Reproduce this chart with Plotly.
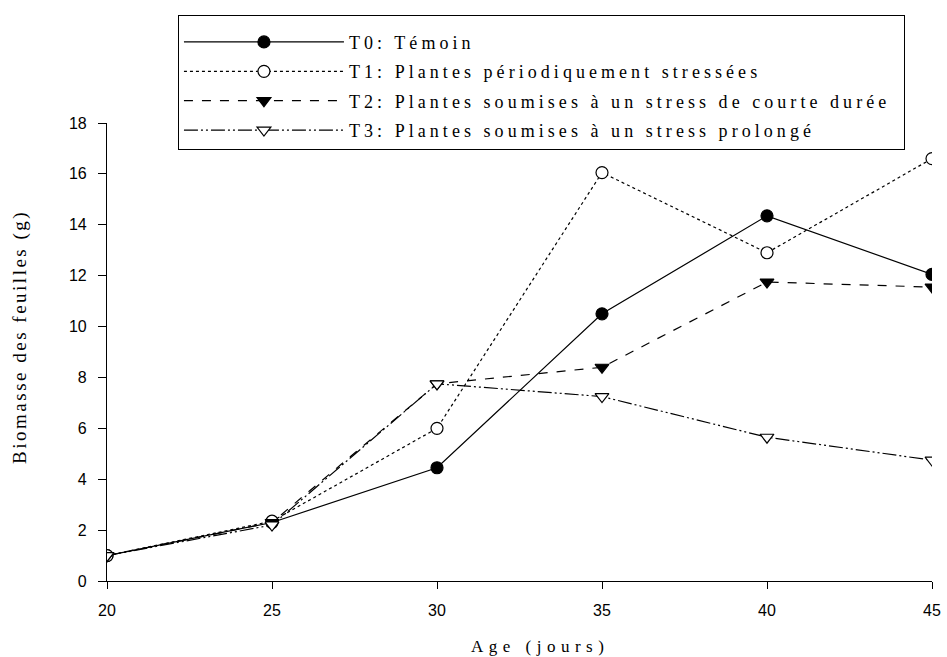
import plotly.graph_objects as go

ages = [20, 25, 30, 35, 40, 45]
t0 = [1.0, 2.3, 4.45, 10.5, 14.35, 12.05]
t1 = [1.0, 2.35, 6.0, 16.05, 12.9, 16.6]
t2 = [1.0, 2.3, 7.75, 8.4, 11.75, 11.55]
t3 = [1.0, 2.2, 7.75, 7.25, 5.65, 4.75]
names = ["T0: Témoin",
         "T1: Plantes périodiquement stressées",
         "T2: Plantes soumises à un stress de courte durée",
         "T3: Plantes soumises à un stress prolongé"]
x_ticks = [20, 25, 30, 35, 40, 45]
y_ticks = [0, 2, 4, 6, 8, 10, 12, 14, 16, 18]

SERIF = "Liberation Serif"

def sp(t, ls):
    return f'<span style="font-family:\'{SERIF}\';letter-spacing:{ls}px">{t}</span>'

series = [
    (t0, "solid", "circle", "black"),
    (t1, "dot", "circle", "white"),
    (t2, "dash", "triangle-down", "black"),
    (t3, "14px,3px,2px,3px,2px,3px", "triangle-down", "white"),
]

longest = max(len(n) for n in names)

fig = go.Figure()
for i, ((vals, dash, sym, fill), name) in enumerate(zip(series, names)):
    label = sp(name, 4.05)
    if len(name) == longest:
        label += "&nbsp;&#8201;"  # right padding inside the legend box
    fig.add_trace(go.Scatter(
        x=ages, y=vals, name=label, mode="lines+markers",
        legendgroup=f"g{i}",
        line=dict(color="black", width=1.2, dash=dash),
        marker=dict(symbol=sym, size=12, color=fill,
                    line=dict(color="black", width=1.2)),
    ))

fig.add_annotation(
    text=sp("Age (jours)", 5.5), xref="paper", yref="paper",
    x=0.525, y=0, yshift=-65, xanchor="center", yanchor="middle",
    showarrow=False, font=dict(family=SERIF, size=17, color="black"),
)
fig.add_annotation(
    text=sp("Biomasse des feuilles (g)", 2.5), xref="paper", yref="paper",
    x=0, y=0.533, xshift=-87, xanchor="center", yanchor="middle",
    textangle=-90, showarrow=False,
    font=dict(family=SERIF, size=19, color="black"),
)

fig.update_layout(
    width=947, height=657,
    margin=dict(l=107, r=15, t=123, b=76),
    paper_bgcolor="white", plot_bgcolor="white",
    font=dict(family=SERIF, color="black"),
    legend=dict(
        x=0.086, y=1.236, xanchor="left", yanchor="top",
        bordercolor="black", borderwidth=1, bgcolor="white",
        font=dict(family=SERIF, size=18, color="black"),
        itemwidth=160, tracegroupgap=3,
        title=dict(text=" ", font=dict(size=6)),
    ),
    xaxis=dict(
        range=[20, 45], tickvals=x_ticks, showgrid=False, zeroline=False,
        showline=True, linecolor="black", linewidth=1.2,
        ticks="outside", ticklen=7, tickcolor="black",
        ticklabelstandoff=8, automargin=False,
        tickfont=dict(family="Liberation Sans", size=16, color="black"),
    ),
    yaxis=dict(
        range=[0, 18], tickvals=y_ticks, showgrid=False, zeroline=False,
        showline=True, linecolor="black", linewidth=1.2,
        ticks="outside", ticklen=8, tickcolor="black",
        ticklabelstandoff=8, automargin=False,
        tickfont=dict(family="Liberation Sans", size=16, color="black"),
    ),
)

fig.write_html("out.html", config={"displayModeBar": False},
               post_script="document.body.style.margin='0';")
